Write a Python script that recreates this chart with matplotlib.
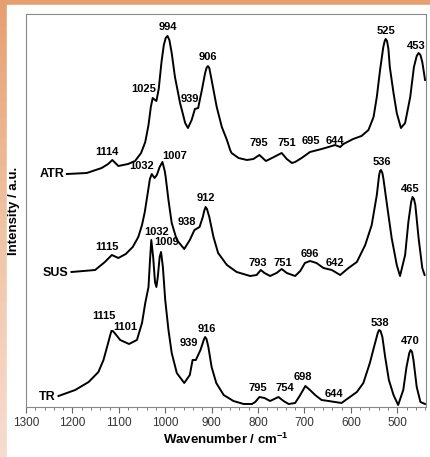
import matplotlib.pyplot as plt
from matplotlib.patches import Rectangle
import numpy as np

# ATR spectrum (wavenumber, intensity a.u.)
atr_x = [1212, 1169, 1137, 1123, 1114, 1101, 1080, 1065, 1052, 1043, 1036, 1031, 1027, 1022, 1019,
         1014, 1008, 1003, 999, 995, 991, 986, 979, 968, 957, 951, 943, 936, 929, 921, 914, 911, 908,
         905, 900, 889, 878, 867, 860, 857, 842, 824, 810, 797, 783, 770, 749, 738, 727, 720, 706,
         688, 663, 648, 634, 623, 616, 595, 577, 562, 551, 544, 537, 530, 527, 525, 522, 519, 516,
         508, 501, 492, 483, 472, 464, 458, 454, 450, 446, 440]
atr_y = [233, 234, 239, 243, 247, 241, 243, 246, 254, 265, 282, 300, 309, 307, 306,
         318, 345, 362, 369, 371, 367, 354, 330, 304, 284, 279, 287, 298, 299, 317, 334, 339, 341,
         339, 327, 300, 280, 267, 257, 254, 249, 247, 248, 252, 246, 249, 254, 248, 244, 245, 249,
         255, 258, 260, 262, 260, 263, 268, 271, 277, 290, 310, 337, 360, 366, 368, 366, 358, 340,
         314, 294, 279, 284, 310, 340, 351, 354, 352, 345, 327]

# SUS spectrum
sus_x = [1202, 1151, 1130, 1115, 1101, 1085, 1070, 1058, 1050, 1044, 1038, 1033, 1029, 1023, 1018,
         1012, 1006, 1001, 999, 993, 986, 975, 959, 947, 937, 926, 919, 916, 913, 910, 905, 896, 886,
         867, 846, 817, 803, 794, 786, 774, 760, 749, 738, 720, 709, 699, 688, 674, 659, 641, 623,
         605, 587, 569, 555, 544, 539, 537, 535, 532, 530, 522, 512, 501, 494, 483, 476, 470, 467,
         464, 461, 454, 446, 441]
sus_y = [135, 137, 145, 152, 149, 153, 160, 170, 182, 195, 213, 228, 233, 229, 232,
         240, 245, 236, 230, 207, 184, 167, 158, 167, 177, 180, 190, 196, 200, 198, 190, 170, 154,
         142, 135, 131, 132, 137, 134, 131, 134, 138, 134, 131, 136, 144, 146, 144, 139, 137, 132,
         139, 145, 162, 182, 212, 232, 236, 237, 234, 229, 202, 169, 142, 131, 152, 185, 205, 210,
         208, 202, 169, 139, 132]

# TR spectrum
tr_x = [1230, 1194, 1165, 1144, 1133, 1123, 1119, 1116, 1113, 1109, 1097, 1078, 1061, 1050, 1043,
        1036, 1033, 1030, 1026, 1022, 1019, 1016, 1012, 1009, 1005, 1000, 993, 986, 975, 959, 947,
        941, 934, 924, 917, 914, 911, 907, 900, 890, 874, 853, 831, 813, 806, 797, 786, 774, 756,
        745, 734, 720, 709, 698, 688, 677, 663, 648, 634, 620, 605, 587, 573, 559, 550, 542, 539,
        536, 532, 526, 518, 508, 498, 487, 480, 474, 471, 468, 465, 458, 450, 440]
tr_y = [11, 17, 25, 35, 47, 64, 71, 76, 76, 74, 67, 63, 67, 84, 104,
        120, 145, 167, 150, 125, 120, 130, 150, 155, 140, 107, 77, 54, 34, 24, 32,
        47, 47, 57, 67, 70, 68, 60, 40, 24, 12, 6, 3, 3, 5, 10, 9, 6, 10,
        6, 3, 4, 12, 21, 17, 12, 7, 6, 5, 4, 9, 15, 24, 44, 60, 74, 77,
        76, 70, 50, 27, 12, 2, 17, 40, 54, 57, 55, 47, 20, 5, 3]

# peak labels: text, x, y
atr_labels = [('994', 995, 380), ('1025', 1046, 318), ('939', 946, 308), ('906', 909, 350),
              ('1114', 1126, 255), ('795', 799, 264), ('751', 738, 264), ('695', 686, 266),
              ('644', 634, 266), ('525', 525, 376), ('453', 459, 361)]
sus_labels = [('1032', 1051, 241), ('1007', 979, 251), ('1115', 1125, 160), ('938', 954, 185),
              ('912', 913, 209), ('793', 800, 144), ('751', 747, 144), ('696', 688, 153),
              ('642', 634, 144), ('536', 533, 245), ('465', 472, 218)]
tr_labels = [('1032', 1018, 175), ('1009', 997, 165), ('1115', 1132, 91), ('1101', 1086, 80),
             ('939', 950, 64), ('916', 911, 78), ('795', 801, 19), ('754', 743, 19),
             ('698', 704, 30), ('644', 636, 13), ('538', 538, 84), ('470', 471, 66)]
names = [('ATR', 1218, 233), ('SUS', 1208, 134), ('TR', 1236, 10)]

plt.rcParams['font.family'] = ['Liberation Sans', 'DejaVu Sans']
fig = plt.figure(figsize=(4.31, 4.57), dpi=100)
fig.patch.set_facecolor('#e8a878')
bg = fig.add_axes([0, 0, 1, 1])
grad = np.linspace(0, 1, 50).reshape(-1, 1)
bg.imshow(grad, aspect='auto', cmap=plt.matplotlib.colors.LinearSegmentedColormap.from_list(
    'o', ['#e6a070', '#f0c4a4', '#f6dcd0']), extent=[0, 1, 0, 1])
bg.add_patch(Rectangle((7 / 431, 0), 1, 1 - 5 / 457, color='white', zorder=3))
bg.axis('off')

ax = fig.add_axes([26 / 431, 50 / 457, 400 / 431, 393 / 457])
for x, y in [(atr_x, atr_y), (sus_x, sus_y), (tr_x, tr_y)]:
    ax.plot(x, y, color='black', lw=1.4)
for labs in [atr_labels, sus_labels, tr_labels]:
    for t, x, y in labs:
        ax.text(x, y, t, ha='center', va='center', fontsize=8, fontweight='bold')
for t, x, y in names:
    ax.text(x, y, t, ha='right', va='center', fontsize=9, fontweight='bold')

ax.set_xlim(1300, 438)
ax.set_ylim(0, 393)
ax.set_yticks([])
ax.set_xticks(np.arange(1300, 430, -100))
ax.set_xticks(np.arange(1300, 430, -20), minor=True)
ax.tick_params(axis='x', labelsize=8.5, labelcolor='#333333', color='#666666', length=4)
ax.tick_params(axis='x', which='minor', color='#666666', length=2.5)
for s in ax.spines.values():
    s.set_color('#888888')
ax.set_xlabel('Wavenumber / cm$^{\\mathregular{-1}}$', fontsize=9.5, fontweight='bold', labelpad=2)
ax.set_ylabel('Intensity / a.u.', fontsize=9.5, fontweight='bold', labelpad=4)

plt.savefig('out.png', dpi=100)
